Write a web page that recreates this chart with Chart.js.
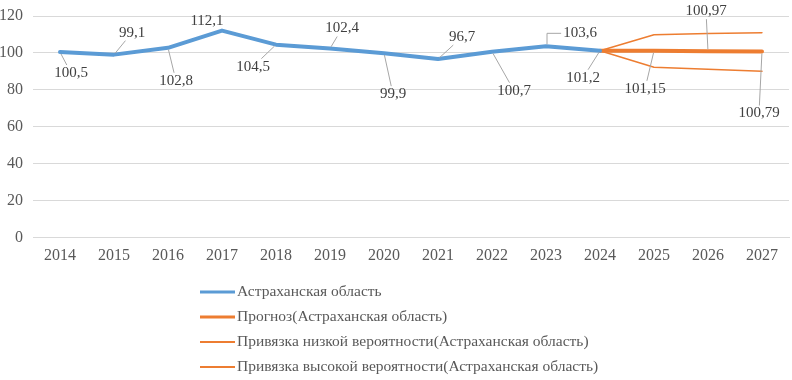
<!DOCTYPE html>
<html>
<head>
<meta charset="utf-8">
<script src="https://cdn.jsdelivr.net/npm/chart.js@4/dist/chart.umd.min.js"></script>
</head>
<body style="margin:0">
<canvas id="myChart" width="792" height="380"></canvas>
<script>
var years = ["2014", "2015", "2016", "2017", "2018", "2019", "2020", "2021", "2022", "2023", "2024", "2025", "2026", "2027"];
var actual = [100.5, 99.1, 102.8, 112.1, 104.5, 102.4, 99.9, 96.7, 100.7, 103.6, 101.2, null, null, null];
var forecast = [null, null, null, null, null, null, null, null, null, null, 101.2, 101.15, 100.97, 100.79];
var lowBound = [null, null, null, null, null, null, null, null, null, null, 101.2, 92.3, 91.2, 90.1];
var highBound = [null, null, null, null, null, null, null, null, null, null, 101.2, 109.9, 110.5, 111.0];
var seriesNames = [
  "Астраханская область",
  "Прогноз(Астраханская область)",
  "Привязка низкой вероятности(Астраханская область)",
  "Привязка высокой вероятности(Астраханская область)"
];

// where each value label sits, relative to its point (px)
var actualLabelPos = [[11, 21], [18, -22], [8, 33], [-15, -10], [-23, 22], [12, -20], [9, 41], [24, -22], [22, 39], [34, -13], [-17, 27]];
var forecastLabelPos = [null, null, null, null, null, null, null, null, null, null, null, [-9, 38], [-2, -40], [-3, 62]];

var FONT = "'Liberation Serif', 'Times New Roman', serif";
Chart.defaults.font.family = FONT;

function fmt(v) {
  return String(v).replace(".", ",");
}

var labelPlugin = {
  id: "valueLabels",
  afterDatasetsDraw: function (chart) {
    var ctx = chart.ctx;
    ctx.save();
    ctx.font = "15px " + FONT;
    ctx.textAlign = "center";
    ctx.textBaseline = "middle";
    var jobs = [[0, actualLabelPos], [1, forecastLabelPos]];
    jobs.forEach(function (job) {
      var meta = chart.getDatasetMeta(job[0]);
      var data = chart.data.datasets[job[0]].data;
      job[1].forEach(function (off, i) {
        if (!off || data[i] == null) return;
        var pt = meta.data[i];
        var cx = pt.x + off[0], cy = pt.y + off[1];
        var txt = fmt(data[i]);
        var hw = ctx.measureText(txt).width / 2 + 1, hh = 8;
        ctx.strokeStyle = "#a6a6a6";
        ctx.lineWidth = 1;
        ctx.beginPath();
        if (Math.abs(off[1]) < 16 && off[0] > hw) {
          // label beside the point: elbow leader
          ctx.moveTo(cx - hw - 1, cy);
          ctx.lineTo(pt.x + 1, cy);
          ctx.lineTo(pt.x + 1, pt.y - 2);
        } else {
          // leader line from label box edge to the point
          var dx = pt.x - cx, dy = pt.y - cy;
          var t = Math.min(dx !== 0 ? hw / Math.abs(dx) : 99, dy !== 0 ? hh / Math.abs(dy) : 99);
          var sx = cx + dx * t, sy = cy + dy * t;
          var len = Math.hypot(pt.x - sx, pt.y - sy);
          if (t < 1 && len > 9) {
            ctx.moveTo(sx, sy);
            ctx.lineTo(pt.x - (pt.x - sx) / len * 2, pt.y - (pt.y - sy) / len * 2);
          }
        }
        ctx.stroke();
        ctx.fillStyle = "#404040";
        ctx.fillText(txt, cx, cy);
      });
    });
    ctx.restore();
  }
};

var legendPlugin = {
  id: "listLegend",
  afterDraw: function (chart) {
    var ctx = chart.ctx;
    var top = chart.scales.x.bottom + 19;
    ctx.save();
    ctx.font = "15.5px " + FONT;
    ctx.textAlign = "left";
    ctx.textBaseline = "middle";
    chart.data.datasets.forEach(function (ds, i) {
      var y = top + i * 25;
      ctx.strokeStyle = ds.borderColor;
      ctx.lineWidth = i < 2 ? 3 : 2;
      ctx.beginPath();
      ctx.moveTo(200, y);
      ctx.lineTo(235, y);
      ctx.stroke();
      ctx.fillStyle = "#595959";
      ctx.fillText(ds.label, 237, y);
    });
    ctx.restore();
  }
};

var myChart = new Chart(document.getElementById("myChart"), {
  type: "line",
  data: {
    labels: years,
    datasets: [
      { label: seriesNames[0], data: actual, borderColor: "#5b9bd5", borderWidth: 4, order: 0 },
      { label: seriesNames[1], data: forecast, borderColor: "#ed7d31", borderWidth: 4, order: 1 },
      { label: seriesNames[2], data: lowBound, borderColor: "#ed7d31", borderWidth: 1.5, order: 2 },
      { label: seriesNames[3], data: highBound, borderColor: "#ed7d31", borderWidth: 1.5, order: 3 }
    ]
  },
  options: {
    responsive: false,
    animation: false,
    spanGaps: false,
    elements: {
      point: { radius: 0, hoverRadius: 0 },
      line: { tension: 0, borderJoinStyle: "round", borderCapStyle: "round", fill: false }
    },
    layout: { padding: { top: 16, right: 3, bottom: 107, left: 0 } },
    scales: {
      x: {
        offset: true,
        grid: { display: false, drawTicks: false },
        border: { color: "#d9d9d9" },
        ticks: { color: "#595959", font: { family: FONT, size: 16 }, padding: 8, maxRotation: 0 }
      },
      y: {
        min: 0,
        max: 120,
        afterFit: function (s) { s.width = 33; s.paddingTop = 0; s.paddingBottom = 0; },
        grid: { color: "#d9d9d9", drawTicks: false },
        border: { display: false },
        ticks: { stepSize: 20, color: "#595959", font: { family: FONT, size: 16 }, padding: 10 }
      }
    },
    plugins: {
      legend: { display: false },
      tooltip: { enabled: false }
    }
  },
  plugins: [labelPlugin, legendPlugin]
});
</script>
</body>
</html>
